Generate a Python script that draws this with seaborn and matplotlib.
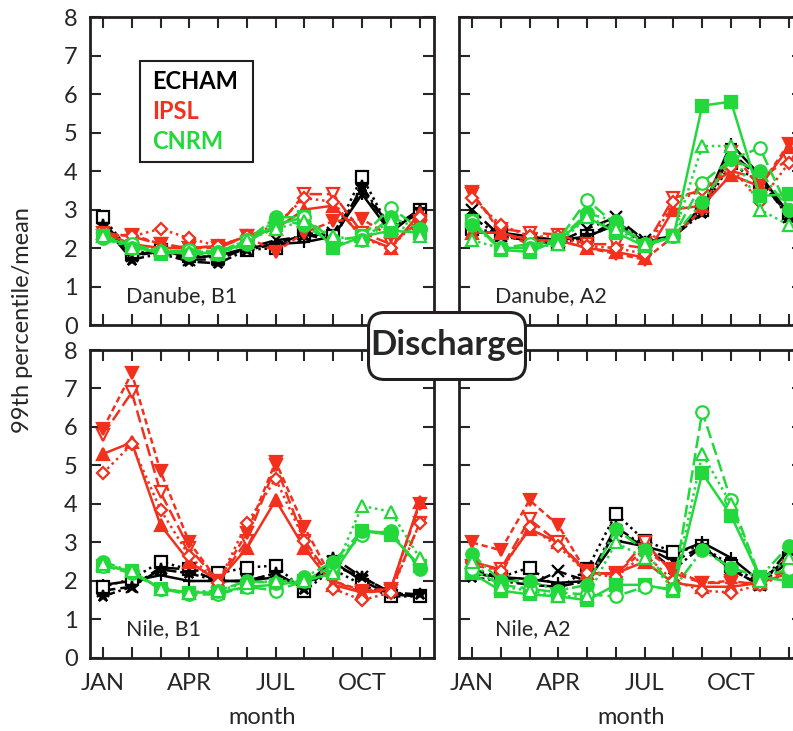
import pandas as pd
import seaborn as sns
import matplotlib
matplotlib.use('Agg')
import matplotlib.pyplot as plt
from matplotlib.patches import Rectangle, FancyBboxPatch

# months and tick labels
months = list(range(1, 13))
tick_months = [1, 4, 7, 10]
tick_labels = ['JAN', 'APR', 'JUL', 'OCT']

models = ['ECHAM', 'IPSL', 'CNRM']
panels = ['Danube, B1', 'Danube, A2', 'Nile, B1', 'Nile, A2']

# 99th percentile / mean, 4 runs per model
# Danube, B1
dan_b1_echam = [
    [2.7, 1.8, 1.95, 1.75, 1.8, 2.0, 2.1, 2.15, 2.3, 3.4, 2.4, 3.0],
    [2.6, 1.8, 1.9, 1.7, 1.7, 2.0, 2.2, 2.3, 2.4, 3.5, 2.5, 2.9],
    [2.8, 1.85, 1.95, 1.8, 1.75, 1.95, 2.0, 2.4, 2.3, 3.85, 2.45, 3.0],
    [2.6, 1.7, 1.85, 1.65, 1.6, 1.95, 2.1, 2.35, 2.2, 3.6, 2.5, 3.0],
]
dan_b1_ipsl = [
    [2.4, 2.1, 2.0, 2.0, 2.05, 2.3, 2.5, 3.0, 3.1, 2.3, 2.0, 2.9],
    [2.4, 2.3, 2.1, 2.0, 2.0, 2.3, 2.5, 3.4, 3.4, 2.4, 2.1, 2.7],
    [2.3, 2.35, 2.1, 2.0, 2.05, 2.3, 1.9, 2.4, 2.7, 2.75, 2.3, 2.55],
    [2.4, 2.3, 2.5, 2.25, 2.05, 2.3, 2.6, 3.3, 3.2, 2.25, 2.0, 2.8],
]
dan_b1_cnrm = [
    [2.3, 2.05, 1.85, 1.9, 1.85, 2.15, 2.6, 2.8, 2.0, 2.3, 2.45, 2.4],
    [2.3, 2.1, 1.9, 1.95, 1.9, 2.2, 2.8, 2.8, 2.2, 2.3, 3.05, 2.5],
    [2.25, 2.0, 1.9, 1.85, 1.85, 2.1, 2.75, 2.6, 2.1, 2.2, 2.8, 2.5],
    [2.3, 2.0, 1.95, 1.9, 1.9, 2.2, 2.5, 2.7, 2.3, 2.2, 2.7, 2.3],
]
# Danube, A2
dan_a2_echam = [
    [2.4, 2.4, 2.3, 2.2, 2.3, 2.6, 2.15, 2.3, 3.0, 4.7, 3.9, 2.9],
    [3.0, 2.3, 2.2, 2.15, 2.5, 2.8, 2.2, 2.3, 3.1, 4.4, 3.9, 2.8],
    [2.5, 2.4, 2.2, 2.1, 2.3, 2.6, 2.1, 2.3, 3.0, 4.2, 3.7, 2.9],
    [2.8, 2.3, 2.2, 2.1, 2.3, 2.7, 2.15, 2.3, 2.9, 4.5, 3.8, 2.8],
]
dan_a2_ipsl = [
    [2.4, 2.4, 2.2, 2.2, 2.0, 1.9, 1.75, 3.0, 3.1, 3.9, 3.6, 4.6],
    [3.4, 2.5, 2.4, 2.35, 2.1, 2.1, 2.0, 3.3, 3.5, 4.0, 3.8, 4.3],
    [3.45, 2.4, 2.1, 2.2, 2.0, 1.85, 1.7, 2.3, 3.0, 4.5, 3.6, 4.7],
    [3.3, 2.6, 2.3, 2.3, 2.05, 2.0, 1.85, 3.2, 3.5, 4.1, 3.2, 4.2],
]
dan_a2_cnrm = [
    [2.7, 1.95, 1.9, 2.2, 2.8, 2.4, 2.05, 2.3, 5.7, 5.8, 3.35, 3.4],
    [2.7, 2.0, 2.1, 2.2, 3.25, 2.6, 2.1, 2.3, 3.7, 4.3, 4.6, 3.0],
    [2.6, 2.0, 2.0, 2.2, 2.9, 2.7, 2.1, 2.3, 3.2, 4.3, 4.0, 3.0],
    [2.2, 2.0, 2.0, 2.1, 2.8, 2.5, 2.1, 2.3, 4.65, 4.65, 3.0, 2.6],
]
# Nile, B1
nile_b1_echam = [
    [1.9, 2.0, 2.15, 2.0, 2.0, 2.0, 2.1, 1.9, 2.5, 2.0, 1.65, 1.6],
    [1.75, 1.85, 2.35, 2.3, 2.0, 2.0, 2.2, 1.8, 2.4, 2.1, 1.7, 1.6],
    [1.85, 2.05, 2.5, 2.3, 2.2, 2.35, 2.4, 1.75, 2.3, 1.9, 1.6, 1.6],
    [1.6, 1.85, 2.3, 2.2, 2.0, 2.0, 2.2, 1.8, 2.6, 2.1, 1.7, 1.65],
]
nile_b1_ipsl = [
    [5.3, 5.6, 3.45, 2.5, 2.0, 2.85, 4.1, 2.85, 1.9, 1.7, 1.8, 4.05],
    [5.8, 6.9, 4.3, 2.85, 2.0, 3.05, 5.0, 3.05, 2.0, 1.7, 1.75, 3.5],
    [5.95, 7.4, 4.85, 3.0, 2.0, 3.25, 5.1, 3.4, 2.0, 1.75, 1.8, 4.0],
    [4.8, 5.55, 3.85, 2.65, 1.95, 3.5, 4.65, 3.05, 1.8, 1.5, 1.7, 3.5],
]
nile_b1_cnrm = [
    [2.4, 2.25, 1.8, 1.7, 1.7, 1.85, 1.9, 2.0, 2.2, 3.3, 3.2, 2.4],
    [2.4, 2.2, 1.8, 1.65, 1.65, 1.85, 1.75, 2.0, 2.4, 3.2, 3.3, 2.3],
    [2.5, 2.25, 1.8, 1.7, 1.75, 2.0, 1.95, 2.1, 2.5, 3.3, 3.25, 2.35],
    [2.45, 2.25, 1.8, 1.7, 1.75, 1.95, 2.0, 2.0, 2.2, 3.95, 3.8, 2.6],
]
# Nile, A2
nile_a2_echam = [
    [2.2, 2.1, 2.05, 1.95, 2.0, 3.05, 2.9, 2.7, 3.0, 2.6, 2.0, 2.6],
    [2.3, 2.1, 1.9, 2.25, 2.0, 3.3, 2.9, 2.5, 2.9, 2.3, 1.9, 2.5],
    [2.2, 2.1, 2.35, 1.8, 2.3, 3.75, 3.05, 2.75, 2.9, 2.4, 1.95, 2.6],
    [2.1, 2.0, 1.9, 1.85, 2.0, 3.4, 2.9, 2.3, 2.9, 2.3, 1.9, 2.8],
]
nile_a2_ipsl = [
    [2.5, 2.3, 3.35, 3.0, 2.2, 2.2, 2.5, 1.95, 1.85, 1.85, 1.95, 2.2],
    [2.4, 2.3, 3.6, 3.0, 2.25, 2.15, 3.0, 2.2, 1.95, 1.95, 1.95, 2.3],
    [3.0, 2.8, 4.1, 3.45, 2.2, 2.2, 2.8, 2.3, 1.95, 2.0, 1.9, 2.4],
    [2.5, 2.25, 3.4, 2.9, 2.2, 2.1, 2.7, 2.0, 1.75, 1.7, 1.9, 2.2],
]
nile_a2_cnrm = [
    [2.2, 1.75, 1.65, 1.6, 1.5, 1.9, 1.9, 1.75, 4.8, 3.7, 2.1, 2.0],
    [2.3, 1.9, 1.8, 1.7, 1.65, 1.6, 1.85, 1.8, 6.4, 4.1, 2.1, 2.3],
    [2.7, 2.0, 2.0, 1.75, 1.9, 3.35, 2.8, 1.8, 2.8, 2.35, 2.1, 2.9],
    [2.5, 1.85, 1.75, 1.6, 1.6, 3.0, 2.6, 1.8, 5.3, 4.0, 2.0, 2.6],
]

panel_data = {
    'Danube, B1': [dan_b1_echam, dan_b1_ipsl, dan_b1_cnrm],
    'Danube, A2': [dan_a2_echam, dan_a2_ipsl, dan_a2_cnrm],
    'Nile, B1': [nile_b1_echam, nile_b1_ipsl, nile_b1_cnrm],
    'Nile, A2': [nile_a2_echam, nile_a2_ipsl, nile_a2_cnrm],
}

RED = '#f2301e'
GREEN = '#22d83a'
colors = {'ECHAM': 'black', 'IPSL': RED, 'CNRM': GREEN}

# line style per run: (dashes, marker, filled, markersize)
run_styles = {
    'ECHAM': [(None, '+', True, 9), ((5, 2), 'x', True, 8), ((1, 1.5), 's', False, 8), ((5, 1.5, 1, 1.5), '*', True, 9)],
    'IPSL': [(None, '^', True, 8), ((5, 2), 'v', False, 8), ((2.5, 1.5), 'v', True, 8), ((1, 1.5), 'D', False, 6)],
    'CNRM': [(None, 's', True, 8), ((5, 2), 'o', False, 9), ((5, 1.5, 1, 1.5), 'o', True, 9), ((1, 1.5), '^', False, 8)],
}

sns.set_style('ticks')
plt.rcParams['font.family'] = ['Lato', 'DejaVu Sans']
plt.rcParams['font.size'] = 16

fig = plt.figure(figsize=(7.93, 7.31), dpi=100)
positions = {
    'Danube, B1': [0.1135, 0.5554, 0.4338, 0.4213],
    'Danube, A2': [0.5788, 0.5554, 0.4338, 0.4213],
    'Nile, B1': [0.1135, 0.0999, 0.4338, 0.4213],
    'Nile, A2': [0.5788, 0.0999, 0.4338, 0.4213],
}

for i, name in enumerate(panels):
    ax = fig.add_axes(positions[name])
    for m, model in enumerate(models):
        for r, series in enumerate(panel_data[name][m]):
            dashes, mk, filled, ms = run_styles[model][r]
            c = colors[model]
            sns.lineplot(x=months, y=series, ax=ax, color=c, lw=1.8,
                         marker=mk, markersize=ms,
                         markerfacecolor=c if filled else 'white',
                         markeredgecolor=c, markeredgewidth=1.6)
            line = ax.lines[-1]
            if dashes is not None:
                line.set_dashes(dashes)
    ax.set_xlim(0.55, 12.5)
    ax.set_ylim(0, 8)
    ax.set_xticks(months)
    ax.set_yticks(range(0, 9))
    ax.tick_params(direction='in', length=8, width=1.5, top=True, right=True,
                   labelsize=17)
    ax.tick_params(axis='x', pad=11)
    ax.tick_params(axis='y', pad=9)
    for sp in ax.spines.values():
        sp.set_linewidth(2)
        sp.set_color('#231f20')
    xlabels = [tick_labels[tick_months.index(k)] if k in tick_months else '' for k in months]
    if i >= 2:
        ax.set_xticklabels(xlabels)
        ax.set_xlabel('month', fontsize=17, labelpad=9)
    else:
        ax.set_xticklabels([])
        ax.set_xlabel('')
    if i % 2 == 1:
        ax.set_yticklabels([])
    ax.set_ylabel('')
    ax.text(0.105, 0.095, name, transform=ax.transAxes, fontsize=15.5,
            va='center', ha='left')
    if i == 0:
        ax.add_patch(Rectangle((0.145, 0.529), 0.329, 0.328, transform=ax.transAxes,
                               fill=False, ec='#231f20', lw=1.5, zorder=5))
        for label, yy in zip(models, [0.792, 0.692, 0.597]):
            ax.text(0.18, yy, label, transform=ax.transAxes, color=colors[label],
                    fontsize=17, fontweight='bold', va='center', ha='left', zorder=6)

# y label shared
fig.text(0.028, 0.562, '99th percentile/mean', rotation=90, va='center', ha='center',
         fontsize=17)

# "Discharge" badge in the middle
bx = fig.add_axes([367 / 793, (731 - 381) / 731, 160 / 793, 70 / 731], zorder=10)
bx.set_xlim(0, 160)
bx.set_ylim(0, 70)
bx.axis('off')
bx.add_patch(FancyBboxPatch((1.5, 1.5), 157, 67, boxstyle='round,pad=0,rounding_size=16',
                            fc='white', ec='#231f20', lw=2.2))
bx.text(80, 36, 'Discharge', ha='center', va='center', fontsize=25, fontweight='bold')

fig.savefig('out.png', dpi=100)
